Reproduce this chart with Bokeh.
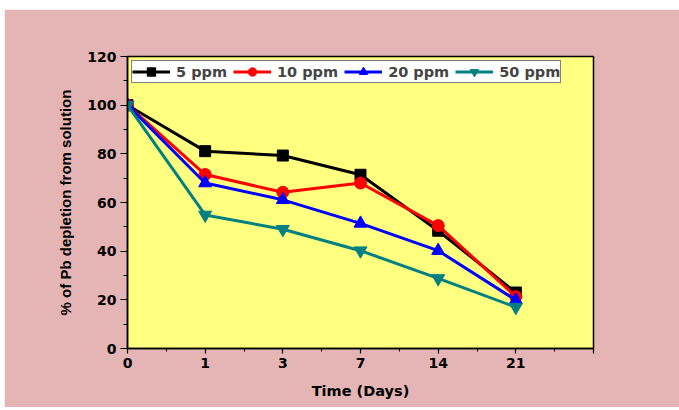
from bokeh.plotting import figure
from bokeh.models import Legend, LegendItem, FixedTicker
from bokeh.embed import file_html
from bokeh.resources import INLINE

days = ["0", "1", "3", "7", "14", "21"]
ppm5 = [100, 81.1, 79.3, 71.4, 48.4, 23.0]
ppm10 = [100, 71.5, 64.2, 68.0, 50.5, 21.3]
ppm20 = [100, 68.0, 61.1, 51.4, 40.2, 19.9]
ppm50 = [100, 54.9, 49.0, 40.2, 28.8, 17.0]

xs = list(range(len(days)))
HFONT = "DejaVu Sans"      # horizontal texts (wide, like the stretched original)
VFONT = "Liberation Sans"  # vertical axis title

p = figure(width=675, height=398, output_backend="svg", toolbar_location=None,
           x_range=(0, 6), y_range=(0, 120),
           min_border_left=123, min_border_right=86, min_border_top=47, min_border_bottom=59)
p.margin = (9, 0, 0, 4)
p.border_fill_color = "#e5b5b5"
p.background_fill_color = "#ffff80"
p.outline_line_color = "black"
p.outline_line_width = 1.5
p.xgrid.visible = False
p.ygrid.visible = False

series = [
    ("5 ppm", ppm5, "black", "square", 11),
    ("10 ppm", ppm10, "#ff0000", "circle", 12),
    ("20 ppm", ppm20, "#0000ff", "triangle", 13),
    ("50 ppm", ppm50, "#008080", "inverted_triangle", 13),
]
items = []
for name, ys, color, marker, sz in series:
    l = p.line(xs, ys, line_color=color, line_width=3)
    m = p.scatter(xs, ys, marker=marker, size=sz, fill_color=color, line_color=color)
    items.append(LegendItem(label=name, renderers=[l, m]))

legend = Legend(items=items, orientation="horizontal", location=(4, 292 - 6 - 21),
                label_text_font=HFONT, label_text_font_style="bold", label_text_font_size="14.5px",
                glyph_width=38, glyph_height=21, label_height=17, label_standoff=6, spacing=6,
                padding=0, margin=0,
                border_line_color="black", border_line_width=1.2,
                background_fill_color="white", background_fill_alpha=1)
p.add_layout(legend)

p.xaxis.ticker = FixedTicker(ticks=list(range(7)), minor_ticks=[i + 0.5 for i in range(6)])
p.xaxis.major_label_overrides = {i: d for i, d in enumerate(days)} | {6: ""}
p.yaxis.ticker = FixedTicker(ticks=list(range(0, 121, 20)), minor_ticks=list(range(10, 120, 20)))

for ax in (p.xaxis[0], p.yaxis[0]):
    ax.axis_line_color = "black"
    ax.axis_line_width = 1.5
    ax.major_tick_line_color = "black"
    ax.minor_tick_line_color = "black"
    ax.major_tick_line_width = 1.2
    ax.major_tick_in = 0
    ax.minor_tick_in = 0
    ax.major_label_text_font = HFONT
    ax.major_label_text_font_style = "bold"
    ax.major_label_text_font_size = "14px"
    ax.major_label_text_color = "black"
    ax.axis_label_text_font_style = "bold"
    ax.axis_label_text_color = "black"

p.xaxis.axis_label_text_font = HFONT
p.xaxis.axis_label_text_font_size = "14.5px"
p.yaxis.axis_label_text_font = VFONT
p.yaxis.axis_label_text_font_size = "15px"

p.xaxis.major_tick_out = 5
p.xaxis.minor_tick_out = 3
p.yaxis.major_tick_out = 7
p.yaxis.minor_tick_out = 4
p.xaxis.major_label_standoff = 4
p.yaxis.major_label_standoff = 4
p.xaxis.axis_label = "Time (Days)"
p.yaxis.axis_label = "% of Pb depletion from solution"
p.xaxis.axis_label_standoff = 12
p.yaxis.axis_label_standoff = 10

open("out.html", "w").write(file_html(p, INLINE))
